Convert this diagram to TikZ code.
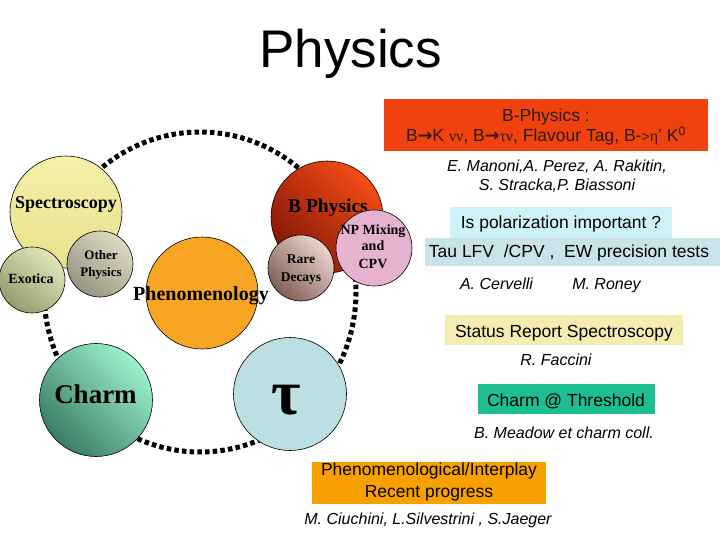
\documentclass[tikz,border=0pt]{standalone}
\usepackage{fontspec}
\setmainfont{Liberation Serif}
\setsansfont{Liberation Sans}
\newfontfamily\arrowfont{DejaVu Sans}
\definecolor{specY}{RGB}{244,240,168}
\definecolor{specYd}{RGB}{232,226,140}
\definecolor{exoL}{RGB}{226,230,188}
\definecolor{exoD}{RGB}{150,156,108}
\definecolor{othL}{RGB}{222,218,196}
\definecolor{othD}{RGB}{150,148,128}
\definecolor{phenO}{RGB}{248,165,35}
\definecolor{bL}{RGB}{246,76,20}
\definecolor{bD}{RGB}{130,22,8}
\definecolor{rareL}{RGB}{236,212,204}
\definecolor{rareD}{RGB}{128,96,88}
\definecolor{npP}{RGB}{230,178,208}
\definecolor{chL}{RGB}{156,242,204}
\definecolor{chD}{RGB}{58,124,100}
\definecolor{tauB}{RGB}{188,223,227}
\definecolor{bpRed}{RGB}{240,66,14}
\definecolor{bpText}{RGB}{50,24,14}
\definecolor{polC}{RGB}{206,242,248}
\definecolor{tauC}{RGB}{200,228,232}
\definecolor{statY}{RGB}{245,236,178}
\definecolor{chTeal}{RGB}{28,190,146}
\definecolor{phOr}{RGB}{248,160,0}
\begin{document}
\begin{tikzpicture}[x=1pt,y=-1pt,
  ball/.style={circle,draw=black,line width=0.6pt,inner sep=0pt,minimum size=#1},
  ball/.default=112pt,
  clbl/.style={anchor=base,inner sep=0pt,font=\bfseries\fontsize{#1}{#1}\selectfont},
  clbl/.default=14,
  boxr/.style={rectangle,inner sep=0pt,draw=none},
  stxt/.style={anchor=base,inner sep=0pt,font=\sffamily\fontsize{17.5}{20}\selectfont},
  itxt/.style={anchor=base,inner sep=0pt,font=\sffamily\itshape\fontsize{16}{19}\selectfont},
  dots/.style={line width=5pt,dash pattern=on 4.5pt off 3.2pt}
]
\useasboundingbox (0,0) rectangle (720,540);
% title
\node[anchor=base,inner sep=0pt,font=\sffamily\fontsize{53}{60}\selectfont] (title) at (350.5,68) {Physics};
% dotted ring
\draw[dots] (200,292) ellipse [x radius=156, y radius=160];
% circles
\node[ball=112pt,top color=specY,bottom color=specYd] (spec) at (66,212) {};
\node[clbl=18] (specl) at (66,209) {Spectroscopy};
\node[ball=66pt,top color=exoL,bottom color=exoD,shading angle=-40] (exo) at (32,280) {};
\node[clbl=14] (exol) at (31,283) {Exotica};
\node[ball=66pt,top color=othL,bottom color=othD,shading angle=-40] (oth) at (100,264) {};
\node[clbl=13] (othl1) at (101,259) {Other};
\node[clbl=13] (othl2) at (101,276) {Physics};
\node[ball=112pt,fill=phenO] (phen) at (202,293) {};
\node[clbl=20] (phenl) at (201,300) {Phenomenology};
\node[ball=112pt,top color=bL,bottom color=bD,shading angle=-45] (bphys) at (327,217) {};
\node[clbl=19.5] (bphysl) at (328,212) {B Physics};
\node[ball=66pt,top color=rareL,bottom color=rareD,shading angle=-45] (rare) at (301,268) {};
\node[clbl=13.5] (rarel1) at (301,263) {Rare};
\node[clbl=13.5] (rarel2) at (301,281) {Decays};
\node[ball=76pt,fill=npP] (np) at (374,248) {};
\node[clbl=14] (npl1) at (373,235) {NP Mixing};
\node[clbl=14] (npl2) at (373,251) {and};
\node[clbl=14] (npl3) at (373,268) {CPV};
\node[ball=113pt,top color=chL,bottom color=chD,shading angle=-45] (charm) at (96,400) {};
\node[clbl=27] (charml) at (95.5,403) {Charm};
\node[ball=113pt,fill=tauB] (tau) at (290,394) {};
\node[inner sep=0pt,font=\bfseries\fontsize{64}{64}\selectfont] (taul) at (286,400) {τ};
% right side boxes
\node[boxr,fill=bpRed,minimum width=324pt,minimum height=52pt] (bpbox) at (546,125) {};
\node[stxt,text=bpText] (bp1) at (546,122) {B-Physics :};
\node[stxt,text=bpText] (bp2) at (546,142) {B{\arrowfont\bfseries →}K {\rmfamily\fontsize{16}{16}\selectfont νν}, B{\arrowfont\bfseries →}{\rmfamily\fontsize{16}{16}\selectfont τν}, Flavour Tag, B-{\fontsize{14}{14}\selectfont >}{\rmfamily\fontsize{16}{16}\selectfont η}' K\textsuperscript{0}};
\node[itxt] (n1) at (557,172) {E. Manoni,A. Perez, A. Rakitin,};
\node[itxt] (n2) at (557,191) {S. Stracka,P. Biassoni};
\node[boxr,fill=polC,minimum width=222pt,minimum height=31pt] (polbox) at (561,222.5) {};
\node[stxt] (pol) at (561,229) {Is polarization important ?};
\node[boxr,fill=tauC,minimum width=295pt,minimum height=28pt] (taubox) at (572.5,252) {};
\node[stxt] (taut) at (569,257) {Tau LFV\ \ /CPV ,\ \ EW precision tests};
\node[itxt] (cerv) at (496.5,289) {A. Cervelli};
\node[itxt] (roney) at (606.5,289) {M. Roney};
\node[boxr,fill=statY,minimum width=238pt,minimum height=30pt] (statbox) at (564,330) {};
\node[stxt] (stat) at (564,337) {Status Report Spectroscopy};
\node[itxt] (facc) at (556,365) {R. Faccini};
\node[boxr,fill=chTeal,minimum width=177pt,minimum height=30pt] (chbox) at (566.5,399) {};
\node[stxt] (cht) at (566,406) {Charm @ Threshold};
\node[itxt] (mead) at (564,438) {B. Meadow et charm coll.};
\node[boxr,fill=phOr,minimum width=234pt,minimum height=42pt] (phbox) at (429,482.5) {};
\node[stxt] (ph1) at (429,475) {Phenomenological/Interplay};
\node[stxt] (ph2) at (429,497) {Recent progress};
\node[itxt] (ciu) at (428,524) {M. Ciuchini, L.Silvestrini , S.Jaeger};
\end{tikzpicture}
\end{document}
